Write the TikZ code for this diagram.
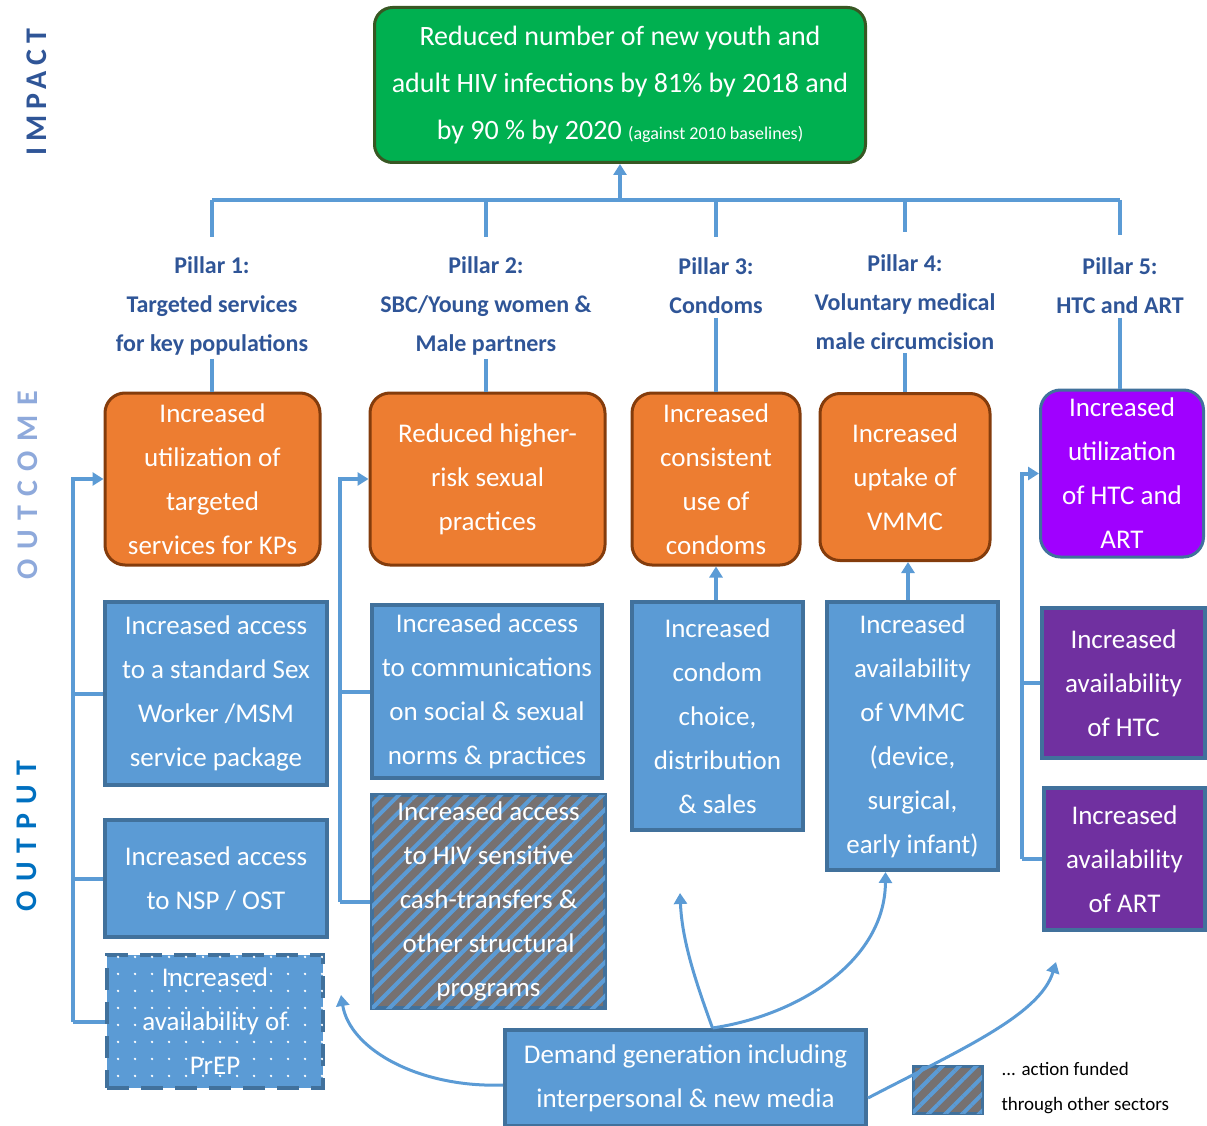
\documentclass[tikz,border=0pt]{standalone}
\usepackage{fontspec}
\setmainfont{Carlito}
\usetikzlibrary{arrows.meta,patterns.meta}
\definecolor{linkblue}{HTML}{5B9BD5}
\definecolor{boxedge}{HTML}{41719C}
\definecolor{orangefill}{HTML}{ED7D31}
\definecolor{orangeedge}{HTML}{843C0C}
\definecolor{impactgreen}{HTML}{00B050}
\definecolor{impactedge}{HTML}{385723}
\definecolor{violetfill}{HTML}{A000FF}
\definecolor{purplefill}{HTML}{7030A0}
\definecolor{pillarblue}{HTML}{2F5597}
\definecolor{outcomeblue}{HTML}{8EA9DB}
\definecolor{outputblue}{HTML}{0070C0}
\definecolor{hatchgrey}{HTML}{767171}

\begin{document}
\begin{tikzpicture}[x=1pt, y=-1pt,
    link/.style={linkblue, line width=4pt},
    tip/.style={-{Triangle[length=11pt,width=13pt]}},
    impact/.style={draw=impactedge, line width=3pt, fill=impactgreen, rounded corners=18pt,
        text=white, align=center, font=\fontsize{28}{47}\selectfont},
    pillar/.style={text=pillarblue, align=center, font=\bfseries\fontsize{24}{39}\selectfont},
    outcome/.style={draw=orangeedge, line width=3pt, fill=orangefill, rounded corners=20pt,
        text=white, align=center, inner sep=0pt, font=\fontsize{27}{44}\selectfont},
    output/.style={draw=boxedge, line width=4pt, fill=linkblue,
        text=white, align=center, inner sep=0pt, font=\fontsize{27}{44}\selectfont},
    hatched/.style={fill=hatchgrey,
        postaction={pattern={Lines[angle=45,distance=12pt,line width=4pt]}, pattern color=linkblue}},
    dotted box/.style={output, dash pattern=on 22pt off 12pt,
        postaction={pattern={Dots[distance=17pt,radius=1.4pt]}, pattern color=white}},
    section/.style={rotate=90, font=\bfseries\fontsize{30}{30}\selectfont}]

    \useasboundingbox (0,0) rectangle (1207,1126);

    % section labels
    \node[section, text=pillarblue] (simpact) at (37,92) {\addfontfeature{LetterSpace=20}IMPACT};
    \node[section, text=outcomeblue] (soutcome) at (28,485) {\addfontfeature{LetterSpace=32}OUTCOME};
    \node[section, text=outputblue] (soutput) at (27,836) {\addfontfeature{LetterSpace=30}OUTPUT};

    % impact
    \node[impact, minimum width=491, minimum height=155] (impact) at (620,85)
        {Reduced number of new youth and\\adult HIV infections by 81\% by 2018 and\\by 90 \% by 2020 {\fontsize{18}{20}\selectfont (against 2010 baselines)}};

    % pillars
    \node[pillar] (p1) at (212,306) {Pillar 1:\\Targeted services\\for key populations};
    \node[pillar] (p2) at (486,306) {Pillar 2:\\SBC/Young women \&\\Male partners};
    \node[pillar] (p3) at (716,286) {Pillar 3:\\Condoms};
    \node[pillar] (p4) at (905,302) {Pillar 4:\\Voluntary medical\\male circumcision};
    \node[pillar] (p5) at (1120,286) {Pillar 5:\\HTC and ART};

    % outcomes
    \node[outcome, minimum width=215, minimum height=172] (o1) at (212.5,479)
        {Increased\\utilization of\\targeted\\services for KPs};
    \node[outcome, minimum width=235, minimum height=172] (o2) at (487.5,479)
        {Reduced higher-\\risk sexual\\practices};
    \node[outcome, minimum width=168, minimum height=172] (o3) at (716,479)
        {Increased\\consistent\\use of\\condoms};
    \node[outcome, minimum width=170, minimum height=167] (o4) at (905,477)
        {Increased\\uptake of\\VMMC};
    \node[outcome, draw=boxedge, fill=violetfill, minimum width=163, minimum height=167] (o5) at (1122,473.5)
        {Increased\\utilization\\of HTC and\\ART};

    % outputs
    \node[output, minimum width=222, minimum height=183] (b1a) at (216,693.5)
        {Increased access\\to a standard Sex\\Worker /MSM\\service package};
    \node[output, minimum width=222, minimum height=117] (b1b) at (216,878.5)
        {Increased access\\to NSP / OST};
    \node[dotted box, minimum width=216, minimum height=133] (b1c) at (215,1021.5)
        {Increased\\availability of\\PrEP};
    \node[output, minimum width=230, minimum height=173] (b2a) at (487,691.5)
        {Increased access\\to communications\\on social \& sexual\\norms \& practices};
    \node[output, hatched, minimum width=233, minimum height=213] (b2b) at (488.5,901.5)
        {Increased access\\to HIV sensitive\\cash-transfers \&\\other structural\\programs};
    \node[output, minimum width=171, minimum height=228] (b3) at (717.5,716)
        {Increased\\condom\\choice,\\distribution\\\& sales};
    \node[output, minimum width=171, minimum height=268] (b4) at (912.5,736)
        {Increased\\availability\\of VMMC\\(device,\\surgical,\\early infant)};
    \node[output, fill=purplefill, minimum width=163, minimum height=150] (b5a) at (1123.5,683)
        {Increased\\availability\\of HTC};
    \node[output, fill=purplefill, minimum width=161, minimum height=142] (b5b) at (1124.5,859)
        {Increased\\availability\\of ART};
    \node[output, minimum width=361, minimum height=96] (demand) at (685.5,1078)
        {Demand generation including\\interpersonal \& new media};

    % legend
    \node[draw=boxedge, line width=3pt, hatched, minimum width=69, minimum height=47] (key) at (947.5,1089.5) {};
    \node[anchor=west, align=left, font=\fontsize{19}{35}\selectfont] (keytext) at (998,1088)
        {... action funded\\through other sectors};

    % pillars to impact
    \coordinate (bar) at (0,200);
    \draw[link] (p1.north |- bar) -- (p5.north |- bar);
    \draw[link, tip] (impact.south |- bar) -- (impact.south);
    \foreach \p/\d in {p1/37, p2/37, p3/37, p4/32, p5/35}
        \draw[link] (\p.north |- bar) -- ++(0,\d);

    % pillars to outcomes
    \draw[link] (p1.south) -- (p1.south |- o1.north);
    \draw[link] (p2.south) -- (p2.south |- o2.north);
    \draw[link] (p3.south) -- (p3.south |- o3.north);
    \draw[link] (p4.south) -- (p4.south |- o4.north);
    \draw[link] (p5.south) -- (p5.south |- o5.north);

    % outputs to outcomes
    \coordinate (l1) at (73,0);
    \draw[link, tip] (l1 |- b1c.west) -- (l1 |- o1.west) -- (o1.west);
    \foreach \b in {b1a, b1b, b1c}
        \draw[link] (l1 |- \b.west) -- (\b.west);
    \coordinate (l2) at (340,0);
    \draw[link, tip] (l2 |- b2b.west) -- (l2 |- o2.west) -- (o2.west);
    \foreach \b in {b2a, b2b}
        \draw[link] (l2 |- \b.west) -- (\b.west);
    \draw[link, tip] (o3.south |- b3.north) -- (o3.south);
    \draw[link, tip] (b4.north -| 908,0) -- (o4.south -| 908,0);
    \coordinate (l5) at (1022,0);
    \draw[link, tip] (l5 |- b5b.west) -- (l5 |- o5.west) -- (o5.west);
    \foreach \b in {b5a, b5b}
        \draw[link] (l5 |- \b.west) -- (\b.west);

    % demand generation
    \coordinate (d1) at (680,893);
    \coordinate (d2) at (1056,962);
    \coordinate (d3) at (341,995);
    \draw[link, line width=3pt, tip] ([xshift=27]demand.north) .. controls (695,980) and (682,940) .. (d1);
    \draw[link, line width=3pt, tip] ([xshift=27]demand.north) .. controls (800,1015) and (885,960) .. ([xshift=-27]b4.south);
    \draw[link, line width=3pt, tip] ([yshift=-20]demand.east) .. controls (960,1050) and (1040,1015) .. (d2);
    \draw[link, line width=3pt, tip] ([yshift=-7]demand.west) .. controls (420,1088) and (350,1050) .. (d3);
\end{tikzpicture}
\end{document}
